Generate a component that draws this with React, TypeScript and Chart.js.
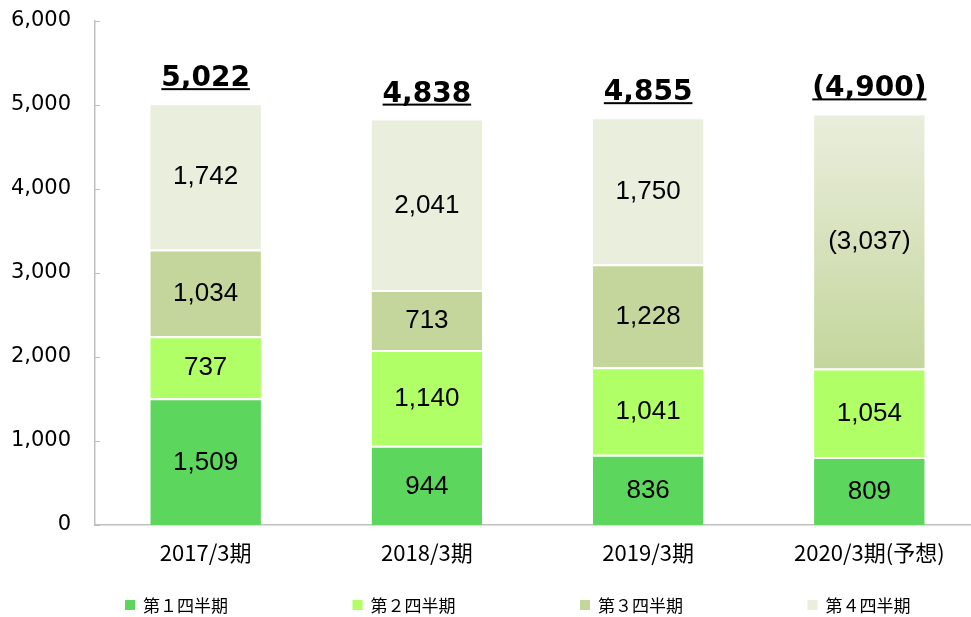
import React, { useEffect, useRef } from "react";
import { Chart, registerables } from "chart.js";

Chart.register(...registerables);

// ---- data ----
const categories = ["2017/3期", "2018/3期", "2019/3期", "2020/3期(予想)"];
const seriesNames = ["第１四半期", "第２四半期", "第３四半期", "第４四半期"];
const q1 = [1509, 944, 836, 809];
const q2 = [737, 1140, 1041, 1054];
const q3: (number | null)[] = [1034, 713, 1228, null];
const q4: (number | null)[] = [1742, 2041, 1750, null];
const forecastQ3Q4: (number | null)[] = [null, null, null, 3037];
const totals = [5022, 4838, 4855, 4900];
const forecastTotal = [false, false, false, true];
const yMin = 0;
const yMax = 6000;
const yStep = 1000;

// ---- styles ----
const C1 = "#5CD65C";
const C2 = "#B0FF66";
const C3 = "#C4D69C";
const C4 = "#EAEEDD";
const AXIS = "#BFBFBF";

const fmt = (v: number) => v.toLocaleString("en-US");

const labelPlugin = {
  id: "segLabels",
  afterDatasetsDraw(chart: any) {
    const ctx = chart.ctx;
    ctx.save();
    ctx.fillStyle = "#000";
    ctx.textAlign = "center";
    ctx.textBaseline = "middle";
    ctx.font = '26px "Liberation Sans", Arial, sans-serif';
    chart.data.datasets.forEach((ds: any, di: number) => {
      const meta = chart.getDatasetMeta(di);
      meta.data.forEach((el: any, i: number) => {
        const v = ds.data[i];
        if (v == null) return;
        const p = el.getProps(["x", "y", "base"], true);
        const t = ds.isForecast ? `(${fmt(v)})` : fmt(v);
        ctx.fillText(t, p.x, (p.y + p.base) / 2 + 1);
      });
    });
    // totals
    const xs = chart.scales.x;
    const ys = chart.scales.y;
    ctx.font = 'bold 28px "DejaVu Sans", Verdana, sans-serif';
    ctx.textBaseline = "alphabetic";
    totals.forEach((tot, i) => {
      const x = xs.getPixelForValue(i);
      const yTop = ys.getPixelForValue(tot);
      const t = forecastTotal[i] ? `(${fmt(tot)})` : fmt(tot);
      const base = yTop - 17;
      ctx.fillText(t, x, base);
      const w = ctx.measureText(t).width;
      ctx.fillRect(x - w / 2, base + 2, w, 2);
    });
    ctx.restore();
  },
  afterDraw(chart: any) {
    const ctx = chart.ctx;
    const ys = chart.scales.y;
    const left = chart.chartArea.left;
    ctx.save();
    // inward tick marks
    ctx.strokeStyle = AXIS;
    ctx.lineWidth = 1;
    ys.ticks.forEach((tk: any) => {
      const y = Math.round(ys.getPixelForValue(tk.value)) + 0.5;
      ctx.beginPath();
      ctx.moveTo(left, y);
      ctx.lineTo(left + 5, y);
      ctx.stroke();
    });
    // legend
    const legendX0 = 125;
    const legendStep = 227.5;
    const legendY = 605;
    ctx.font = '17px "Noto Sans CJK JP", sans-serif';
    ctx.textAlign = "left";
    ctx.textBaseline = "middle";
    for (let i = 0; i < 4; i++) {
      const ds = chart.data.datasets[i];
      const x = legendX0 + i * legendStep;
      ctx.fillStyle = ds.legendColor;
      ctx.fillRect(x, legendY - 5, 10, 10);
      ctx.fillStyle = "#000";
      ctx.fillText(ds.label, x + 18, legendY + 1);
    }
    ctx.restore();
  },
};

export default function App() {
  const ref = useRef<HTMLCanvasElement>(null);

  useEffect(() => {
    const border = { top: 2, right: 0, bottom: 0, left: 0 };
    const common = {
      borderColor: "#FFFFFF",
      borderWidth: border,
      borderSkipped: false as const,
      barPercentage: 0.5,
      categoryPercentage: 1,
      stack: "s",
    };
    const chart = new Chart(ref.current!, {
      type: "bar",
      data: {
        labels: categories,
        datasets: [
          { ...common, label: seriesNames[0], data: q1, backgroundColor: C1, legendColor: C1 } as any,
          { ...common, label: seriesNames[1], data: q2, backgroundColor: C2, legendColor: C2 } as any,
          { ...common, label: seriesNames[2], data: q3, backgroundColor: C3, legendColor: C3 } as any,
          { ...common, label: seriesNames[3], data: q4, backgroundColor: C4, legendColor: C4 } as any,
          {
            ...common,
            label: "forecast",
            isForecast: true,
            data: forecastQ3Q4,
            backgroundColor: (c: any) => {
              const ch = c.chart;
              const ys = ch.scales && ch.scales.y;
              if (!ys || !ch.chartArea) return C3;
              const idx = 3;
              const top = ys.getPixelForValue(totals[idx]);
              const bottom = ys.getPixelForValue(q1[idx] + q2[idx]);
              const g = ch.ctx.createLinearGradient(0, top, 0, bottom);
              g.addColorStop(0, C4);
              g.addColorStop(1, C3);
              return g;
            },
          } as any,
        ],
      },
      options: {
        animation: false,
        responsive: false,
        layout: { padding: { top: 21, right: 0, bottom: 0, left: 0 } },
        plugins: {
          legend: { display: false },
          tooltip: { enabled: false },
        },
        scales: {
          x: {
            stacked: true,
            grid: { display: false, drawTicks: false },
            border: { display: true, color: AXIS, width: 1.5 },
            ticks: {
              padding: 14,
              color: "#000",
              font: { family: '"Noto Sans CJK JP", sans-serif', size: 22 },
            },
            afterFit: (s: any) => {
              s.height = 92;
            },
          },
          y: {
            stacked: true,
            min: yMin,
            max: yMax,
            grid: { display: false, drawTicks: false },
            border: { display: true, color: AXIS, width: 1.5 },
            ticks: {
              stepSize: yStep,
              padding: 24,
              color: "#000",
              font: { family: '"DejaVu Sans", Verdana, sans-serif', size: 21 },
              callback: (v: any) => fmt(Number(v)),
            },
            afterFit: (s: any) => {
              s.width = 95;
              s.paddingTop = 0;
              s.paddingBottom = 0;
            },
          },
        },
      } as any,
      plugins: [labelPlugin],
    });
    return () => chart.destroy();
  }, []);

  return (
    <div
      style={{
        position: "fixed",
        left: 0,
        top: 0,
        width: 971,
        height: 617,
        overflow: "hidden",
        background: "#fff",
      }}
    >
      <canvas ref={ref} width={980} height={617} style={{ display: "block" }} />
    </div>
  );
}
